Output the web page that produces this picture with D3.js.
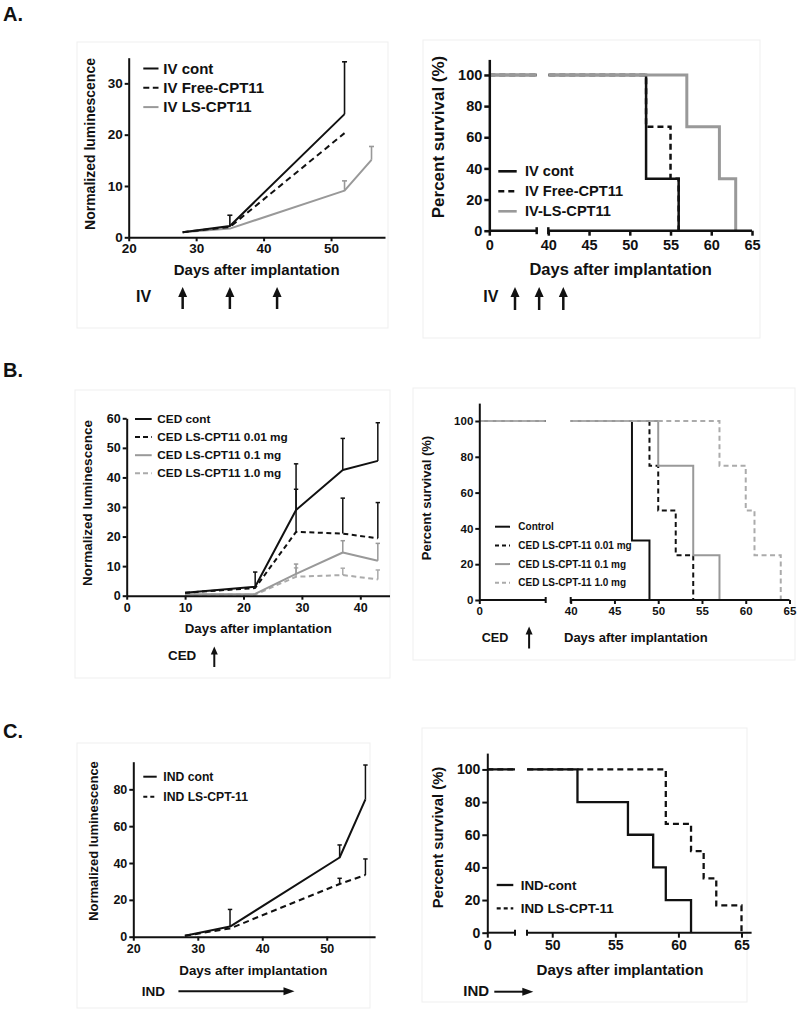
<!DOCTYPE html>
<html><head><meta charset="utf-8">
<script src="https://cdn.jsdelivr.net/npm/d3@7"></script>
<style>
body{margin:0;background:#fff}
text{font-family:"Liberation Sans",Arial,Helvetica,sans-serif;font-weight:bold;fill:#111}
</style>
</head><body>
<svg id="chart" width="800" height="1011"></svg>
<script>
// ===== Panel A: IV luminescence =====
const aLumDays = [28, 35, 52, 56];
const aLumIvCont = [1.0, 2.2, 24.0, null];
const aLumIvContErr = [0, 2.1, 10.2, 0];
const aLumIvFree = [1.0, 2.0, 20.3, null];
const aLumIvFreeErr = [0, 0, 0, 0];
const aLumIvLS = [1.0, 1.7, 9.1, 15.1];
const aLumIvLSErr = [0, 0, 1.9, 2.6];
const aLumNames = ["IV cont", "IV Free-CPT11", "IV LS-CPT11"];
const aLumXTicks = [20, 30, 40, 50];
const aLumYTicks = [0, 10, 20, 30];
const aDoseDays = [28, 35, 42];

// ===== Panel A: IV survival =====
const aSurvNames = ["IV cont", "IV Free-CPT11", "IV-LS-CPT11"];
const aSurvContDays = [52, 56], aSurvContPct = [33.3, 0];
const aSurvFreeDays = [52, 55, 56], aSurvFreePct = [66.7, 33.3, 0];
const aSurvLSDays = [57, 61, 63], aSurvLSPct = [66.7, 33.3, 0];
const survXTicks = [0, 40, 45, 50, 55, 60, 65];
const survYTicks = [0, 20, 40, 60, 80, 100];

// ===== Panel B: CED luminescence =====
const bLumDays = [10, 22, 29, 37, 43];
const bLumCont = [1.0, 3.0, 29.0, 42.5, 45.6];
const bLumContErr = [0, 5.0, 15.6, 10.7, 12.9];
const bLum001 = [1.0, 2.6, 21.6, 21.0, 19.4];
const bLum001Err = [0, 0, 14.4, 12.0, 12.1];
const bLum01 = [0.5, 0.6, 7.4, 14.6, 11.8];
const bLum01Err = [0, 0, 3.3, 4.0, 5.9];
const bLum10 = [0.4, 0.4, 6.4, 7.0, 5.5];
const bLum10Err = [0, 0, 3.0, 2.3, 3.2];
const bLumNames = ["CED cont", "CED LS-CPT11 0.01 mg", "CED LS-CPT11 0.1 mg", "CED LS-CPT11 1.0 mg"];
const bLumXTicks = [0, 10, 20, 30, 40];
const bLumYTicks = [0, 10, 20, 30, 40, 50, 60];
const bDoseDays = [15];

// ===== Panel B: CED survival =====
const bSurvNames = ["Control", "CED LS-CPT-11 0.01 mg", "CED LS-CPT-11 0.1 mg", "CED LS-CPT-11 1.0 mg"];
const bSurvContDays = [47, 49], bSurvContPct = [33.3, 0];
const bSurv001Days = [49, 50, 52, 54], bSurv001Pct = [75, 50, 25, 0];
const bSurv01Days = [50, 54, 57], bSurv01Pct = [75, 25, 0];
const bSurv10Days = [57, 60, 61, 64], bSurv10Pct = [75, 50, 25, 0];

// ===== Panel C: IND luminescence =====
const cLumDays = [28, 35, 52, 56];
const cLumCont = [0.5, 5.5, 43.0, 74.5];
const cLumContErr = [0, 9.3, 6.8, 18.7];
const cLumLS = [0.5, 4.5, 28.6, 33.5];
const cLumLSErr = [0, 0, 3.1, 8.7];
const cLumNames = ["IND cont", "IND LS-CPT-11"];
const cLumXTicks = [20, 30, 40, 50];
const cLumYTicks = [0, 20, 40, 60, 80];
const cDoseSpan = [27, 45];

// ===== Panel C: IND survival =====
const cSurvNames = ["IND-cont", "IND LS-CPT-11"];
const cSurvContDays = [52, 56, 58, 59, 61], cSurvContPct = [80, 60, 40, 20, 0];
const cSurvLSDays = [59, 61, 62, 63, 65], cSurvLSPct = [66.7, 50, 33.3, 16.7, 0];
const cSurvXTicks = [0, 50, 55, 60, 65];

// ================= drawing =================
const svg = d3.select('#chart');
const INK = '#111', GRAY = '#999', LGRAY = '#ababab';

function styleAxis(g, fs, sw) {
  g.attr('font-family', null).attr('font-size', null);
  g.selectAll('path.domain, line').attr('stroke', INK).attr('stroke-width', sw);
  g.selectAll('text').style('font-size', fs + 'px');
}
function label(x, y, str, fs, anchor) {
  return svg.append('text').attr('x', x).attr('y', y).attr('text-anchor', anchor || 'start')
    .style('font-size', fs + 'px').text(str);
}
function vlabel(cx, cy, str, fs) {
  return svg.append('text').attr('transform', `translate(${cx},${cy}) rotate(-90)`)
    .attr('text-anchor', 'middle').attr('dy', '0.35em').style('font-size', fs + 'px').text(str);
}
function arrowUp(x, yTop, yBot, w, hw, hl) {
  svg.append('line').attr('x1', x).attr('x2', x).attr('y1', yBot).attr('y2', yTop + hl - 1)
    .attr('stroke', INK).attr('stroke-width', w);
  svg.append('path').attr('d', `M${x},${yTop}L${x - hw / 2},${yTop + hl}L${x + hw / 2},${yTop + hl}Z`).attr('fill', INK);
}
function arrowRight(x1, x2, y, w, hw, hl) {
  svg.append('line').attr('x1', x1).attr('x2', x2 - hl + 1).attr('y1', y).attr('y2', y)
    .attr('stroke', INK).attr('stroke-width', w);
  svg.append('path').attr('d', `M${x2},${y}L${x2 - hl},${y - hw / 2}L${x2 - hl},${y + hw / 2}Z`).attr('fill', INK);
}
function legend(L, series) {
  series.forEach((s, i) => {
    const yy = L.y0 + i * L.dy;
    svg.append('line').attr('x1', L.x1).attr('x2', L.x2).attr('y1', yy).attr('y2', yy)
      .attr('stroke', s.color).attr('stroke-width', L.lw).attr('stroke-dasharray', s.dash ? L.dash : null);
    svg.append('text').attr('x', L.tx).attr('y', yy).attr('dy', '0.35em')
      .style('font-size', L.fs + 'px').text(s.name);
  });
}

function lumPanel(o) {
  const x = d3.scaleLinear().domain(o.xDomain).range(o.xRange);
  const y = d3.scaleLinear().domain(o.yDomain).range(o.yRange);
  const g = svg.append('g');
  o.series.slice().reverse().forEach(s => {
    const pts = o.days.map((d, i) => ({ d, v: s.vals[i], e: s.errs[i] })).filter(p => p.v != null);
    g.append('path').attr('d', d3.line().x(p => x(p.d)).y(p => y(p.v))(pts))
      .attr('fill', 'none').attr('stroke', s.color).attr('stroke-width', o.lw)
      .attr('stroke-dasharray', s.dash || null).attr('stroke-linejoin', 'round');
    pts.filter(p => p.e > 0).forEach(p => {
      const xx = x(p.d), yt = y(p.v + p.e);
      g.append('line').attr('x1', xx).attr('x2', xx).attr('y1', y(p.v)).attr('y2', yt)
        .attr('stroke', s.color).attr('stroke-width', o.ew);
      g.append('line').attr('x1', xx - o.cap).attr('x2', xx + o.cap).attr('y1', yt).attr('y2', yt)
        .attr('stroke', s.color).attr('stroke-width', o.ew);
    });
  });
  const gx = svg.append('g').attr('transform', `translate(0,${o.yRange[0]})`)
    .call(d3.axisBottom(x).tickValues(o.xTicks).tickSize(o.tick).tickSizeOuter(0));
  styleAxis(gx, o.tickFs, o.aw);
  gx.selectAll('text').attr('dy', null).attr('y', o.xLabOff);
  const gy = svg.append('g').attr('transform', `translate(${o.xRange[0]},0)`)
    .call(d3.axisLeft(y).tickValues(o.yTicks).tickSize(o.tick).tickSizeOuter(0).tickPadding(2));
  styleAxis(gy, o.tickFs, o.aw);
  legend(o.legend, o.series);
  return { x, y };
}

function survPanel(o) {
  const x = d3.scaleLinear().domain(o.xDomain).range(o.xRange);
  const y = d3.scaleLinear().domain(o.yDomain).range(o.yRange);
  const y0 = o.yRange[0], yTop = o.yRange[1];
  const id = 'clip' + o.id;
  const cp = svg.append('clipPath').attr('id', id);
  cp.append('rect').attr('x', o.xRange[0] - 5).attr('y', yTop - 10)
    .attr('width', o.xRange[1] - o.xRange[0] + 5).attr('height', y0 - yTop + 20);
  cp.append('rect').attr('x', o.xRange[2]).attr('y', yTop - 10)
    .attr('width', o.xRange[3] - o.xRange[2] + 10).attr('height', y0 - yTop + 20);
  const g = svg.append('g').attr('clip-path', `url(#${id})`);
  o.series.forEach(s => {
    const pts = [[o.xDomain[0], 100]];
    let prev = 100;
    s.days.forEach((d, i) => { pts.push([d, prev]); pts.push([d, s.pct[i]]); prev = s.pct[i]; });
    g.append('path').attr('d', d3.line().x(p => x(p[0])).y(p => y(p[1]))(pts))
      .attr('fill', 'none').attr('stroke', s.color).attr('stroke-width', s.lw || o.lw)
      .attr('stroke-dasharray', s.dash || null).attr('stroke-linejoin', 'miter');
  });
  const gx = svg.append('g').attr('transform', `translate(0,${y0})`)
    .call(d3.axisBottom(x).tickValues(o.xTicks).tickSize(o.tick).tickSizeOuter(0));
  gx.select('.domain').remove();
  styleAxis(gx, o.tickFs, o.aw);
  gx.selectAll('text').attr('dy', null).attr('y', o.xLabOff);
  [[0, 1], [2, 3]].forEach(([a, b]) => {
    svg.append('line').attr('x1', x(o.xDomain[a])).attr('x2', x(o.xDomain[b])).attr('y1', y0).attr('y2', y0)
      .attr('stroke', INK).attr('stroke-width', o.aw);
  });
  [1, 2].forEach(k => {
    svg.append('line').attr('x1', x(o.xDomain[k])).attr('x2', x(o.xDomain[k]))
      .attr('y1', y0 - o.brk).attr('y2', y0 + o.brk).attr('stroke', INK).attr('stroke-width', o.aw);
  });
  const gy = svg.append('g').attr('transform', `translate(${o.xRange[0]},0)`)
    .call(d3.axisLeft(y).tickValues(survYTicks).tickSize(o.tick).tickSizeOuter(0).tickPadding(2));
  styleAxis(gy, o.tickFs, o.aw);
  legend(o.legend, o.series);
  return { x, y };
}

// faint panel frames
[[77, 42, 388, 328], [423, 40, 760, 338], [75, 390, 390, 678], [413, 388, 795, 660], [77, 743, 370, 1008], [422, 728, 747, 1002]]
  .forEach(r => svg.append('rect').attr('x', r[0]).attr('y', r[1]).attr('width', r[2] - r[0]).attr('height', r[3] - r[1])
    .attr('fill', 'none').attr('stroke', '#efefef').attr('stroke-width', 1));

// panel letters
label(3, 21, 'A.', 20);
label(3, 377, 'B.', 20);
label(3, 738, 'C.', 20);

// ---------- A left ----------
const AL = lumPanel({
  xDomain: [20, 58], xRange: [128.7, 385], yDomain: [0, 35], yRange: [237.3, 57.7],
  days: aLumDays, xTicks: aLumXTicks, yTicks: aLumYTicks, tick: 4, tickFs: 13.5, aw: 2, lw: 2, ew: 1.6, cap: 2.5, xLabOff: 15.7,
  series: [
    { name: aLumNames[0], vals: aLumIvCont, errs: aLumIvContErr, color: INK },
    { name: aLumNames[1], vals: aLumIvFree, errs: aLumIvFreeErr, color: INK, dash: '6,4' },
    { name: aLumNames[2], vals: aLumIvLS, errs: aLumIvLSErr, color: GRAY }
  ],
  legend: { x1: 143.3, x2: 158.5, tx: 163.3, y0: 68.5, dy: 19.3, lw: 2, fs: 15, dash: '6,3.5' }
});
vlabel(90, 144, 'Normalized luminescence', 14);
label(256.7, 275, 'Days after implantation', 15, 'middle');
label(136, 301.7, 'IV', 16);
aDoseDays.forEach(d => arrowUp(AL.x(d), 287, 309, 2.5, 9, 10));

// ---------- A right ----------
survPanel({
  id: 'A', xDomain: [0, 20, 40, 65], xRange: [489.3, 536.7, 548.3, 752], yDomain: [0, 110], yRange: [230.7, 59.4],
  xTicks: survXTicks, tick: 5, tickFs: 14.5, aw: 2.5, lw: 2.5, brk: 3.5, xLabOff: 19,
  series: [
    { name: aSurvNames[0], days: aSurvContDays, pct: aSurvContPct, color: INK },
    { name: aSurvNames[1], days: aSurvFreeDays, pct: aSurvFreePct, color: INK, dash: '6,4' },
    { name: aSurvNames[2], days: aSurvLSDays, pct: aSurvLSPct, color: GRAY, lw: 3 }
  ],
  legend: { x1: 498.3, x2: 516.7, tx: 525, y0: 171.3, dy: 20, lw: 2.6, fs: 14.6, dash: '6,4' }
});
vlabel(438, 137, 'Percent survival (%)', 17);
label(620.7, 275, 'Days after implantation', 16.5, 'middle');
label(483.3, 301.7, 'IV', 16);
const aArrowScale = d3.scaleLinear().domain([28, 42]).range([515, 563.3]);
aDoseDays.forEach(d => arrowUp(aArrowScale(d), 287, 310, 2.5, 9, 10));

// ---------- B left ----------
const BL = lumPanel({
  xDomain: [0, 45], xRange: [126.7, 389.5], yDomain: [0, 60], yRange: [595.7, 418.3],
  days: bLumDays, xTicks: bLumXTicks, yTicks: bLumYTicks, tick: 4, tickFs: 12.5, aw: 2, lw: 2, ew: 1.5, cap: 2.2, xLabOff: 16,
  series: [
    { name: bLumNames[0], vals: bLumCont, errs: bLumContErr, color: INK },
    { name: bLumNames[1], vals: bLum001, errs: bLum001Err, color: INK, dash: '5,3.5' },
    { name: bLumNames[2], vals: bLum01, errs: bLum01Err, color: GRAY },
    { name: bLumNames[3], vals: bLum10, errs: bLum10Err, color: LGRAY, dash: '5,3.5' }
  ],
  legend: { x1: 135, x2: 151.7, tx: 157.3, y0: 419, dy: 18.1, lw: 2, fs: 11.8, dash: '5,3' }
});
vlabel(87.5, 503, 'Normalized luminescence', 13.5);
label(258.3, 633, 'Days after implantation', 13.3, 'middle');
label(168, 660, 'CED', 13.4);
bDoseDays.forEach(d => arrowUp(BL.x(d), 646.5, 667, 2, 7, 8));

// ---------- B right ----------
const BR = survPanel({
  id: 'B', xDomain: [0, 20, 40, 65], xRange: [479.3, 545.7, 570.7, 789.5], yDomain: [0, 110], yRange: [600, 403.1],
  xTicks: survXTicks, tick: 4, tickFs: 11.5, aw: 2, lw: 2, brk: 3, xLabOff: 15,
  series: [
    { name: bSurvNames[0], days: bSurvContDays, pct: bSurvContPct, color: INK },
    { name: bSurvNames[1], days: bSurv001Days, pct: bSurv001Pct, color: INK, dash: '5,3.5' },
    { name: bSurvNames[2], days: bSurv01Days, pct: bSurv01Pct, color: GRAY },
    { name: bSurvNames[3], days: bSurv10Days, pct: bSurv10Pct, color: LGRAY, dash: '5,3.5' }
  ],
  legend: { x1: 495, x2: 510, tx: 518.3, y0: 526.7, dy: 18.7, lw: 2, fs: 10, dash: '4,3' }
});
vlabel(426.7, 498, 'Percent survival (%)', 13);
label(564, 642, 'Days after implantation', 13);
label(481.7, 642, 'CED', 12.6);
bDoseDays.forEach(d => arrowUp(BR.x(d), 626.5, 648.5, 2, 7, 8));

// ---------- C left ----------
const CL = lumPanel({
  xDomain: [20, 57.5], xRange: [133.3, 375.1], yDomain: [0, 95], yRange: [936.7, 761.7],
  days: cLumDays, xTicks: cLumXTicks, yTicks: cLumYTicks, tick: 4, tickFs: 12.5, aw: 2, lw: 2, ew: 1.5, cap: 2.2, xLabOff: 16.3,
  series: [
    { name: cLumNames[0], vals: cLumCont, errs: cLumContErr, color: INK },
    { name: cLumNames[1], vals: cLumLS, errs: cLumLSErr, color: INK, dash: '6,4' }
  ],
  legend: { x1: 143.3, x2: 156.7, tx: 163.3, y0: 776.7, dy: 20, lw: 2, fs: 12.2, dash: '4,3' }
});
vlabel(93.3, 841, 'Normalized luminescence', 13);
label(253.3, 975, 'Days after implantation', 13.4, 'middle');
label(141.7, 996, 'IND', 13.5);
arrowRight(CL.x(cDoseSpan[0]), CL.x(cDoseSpan[1]), 991.3, 2, 8, 11);

// ---------- C right ----------
survPanel({
  id: 'C', xDomain: [0, 20, 48, 65.8], xRange: [487.3, 515, 527, 751.6], yDomain: [0, 110], yRange: [932.7, 753.1],
  xTicks: cSurvXTicks, tick: 5, tickFs: 14, aw: 2, lw: 2.3, brk: 3, xLabOff: 17.3,
  series: [
    { name: cSurvNames[0], days: cSurvContDays, pct: cSurvContPct, color: INK },
    { name: cSurvNames[1], days: cSurvLSDays, pct: cSurvLSPct, color: INK, dash: '6,4' }
  ],
  legend: { x1: 496.7, x2: 513.3, tx: 520.7, y0: 885, dy: 23.3, lw: 2.3, fs: 13.4, dash: '4,3' }
});
vlabel(438, 837.5, 'Percent survival (%)', 14.8);
label(620, 975, 'Days after implantation', 15.1, 'middle');
label(463.3, 996, 'IND', 15);
const cArrowScale = d3.scaleLinear().domain([0, 1]).range([494.3, 533.3]);
arrowRight(cArrowScale(0), cArrowScale(1), 991.7, 2, 8, 11);
</script>
</body></html>
